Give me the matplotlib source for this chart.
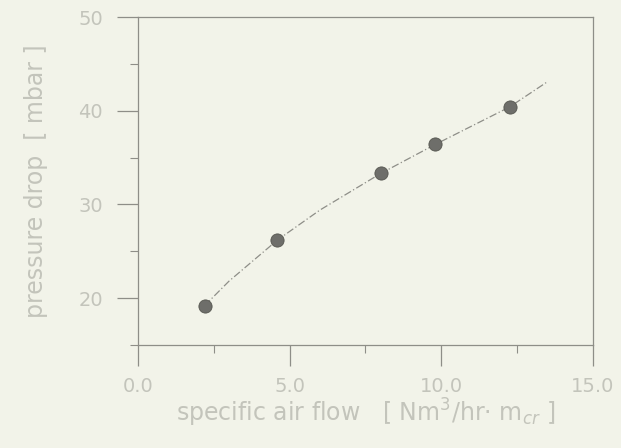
import matplotlib.pyplot as plt
from matplotlib.ticker import MultipleLocator

# measured points
air_flow = [2.2, 4.6, 8.0, 9.8, 12.25]
pressure_drop = [19.2, 26.2, 33.3, 36.4, 40.4]

# fitted curve
curve_x = [2.2, 3.0, 4.6, 6.0, 8.0, 9.8, 12.25, 13.5]
curve_y = [19.2, 21.8, 26.2, 29.4, 33.3, 36.4, 40.4, 43.1]

bg = '#f2f3e9'
txt = '#c3c4bb'
ln = '#8e8e88'

plt.rcParams['font.family'] = ['DejaVu Sans']

fig = plt.figure(figsize=(6.21, 4.48), dpi=100, facecolor=bg)
ax = fig.add_axes([0.222, 0.23, 0.733, 0.732], facecolor=bg)

ax.plot(curve_x, curve_y, linestyle='-.', color=ln, linewidth=0.9, dashes=(6, 2, 1, 2))
ax.plot(air_flow, pressure_drop, 'o', color='#6e6e6a', markersize=9.5,
        markeredgecolor='#55554f', markeredgewidth=0.6)

ax.set_xlim(0, 15)
ax.set_ylim(15, 50)
ax.xaxis.set_minor_locator(MultipleLocator(2.5))
ax.yaxis.set_minor_locator(MultipleLocator(5))
ax.set_xticks([0, 5, 10, 15])
ax.set_xticklabels(['0.0', '5.0', '10.0', '15.0'])
ax.set_yticks([20, 30, 40, 50])

for s in ax.spines.values():
    s.set_color(ln)
    s.set_linewidth(0.9)

ax.tick_params(which='major', direction='out', length=15, width=0.9, color=ln,
               labelcolor=txt, labelsize=14, pad=10)
ax.tick_params(axis='x', which='major', pad=8)
ax.tick_params(which='minor', direction='out', length=6, width=0.8, color=ln)

ax.set_xlabel('specific air flow   [ Nm$^3$/hr$\\cdot$ m$_{cr}$ ]', color=txt,
              fontsize=17, labelpad=1)
ax.set_ylabel('pressure drop  [ mbar ]', color=txt, fontsize=17, labelpad=22)

fig.savefig('out.png', dpi=100, facecolor=bg)
